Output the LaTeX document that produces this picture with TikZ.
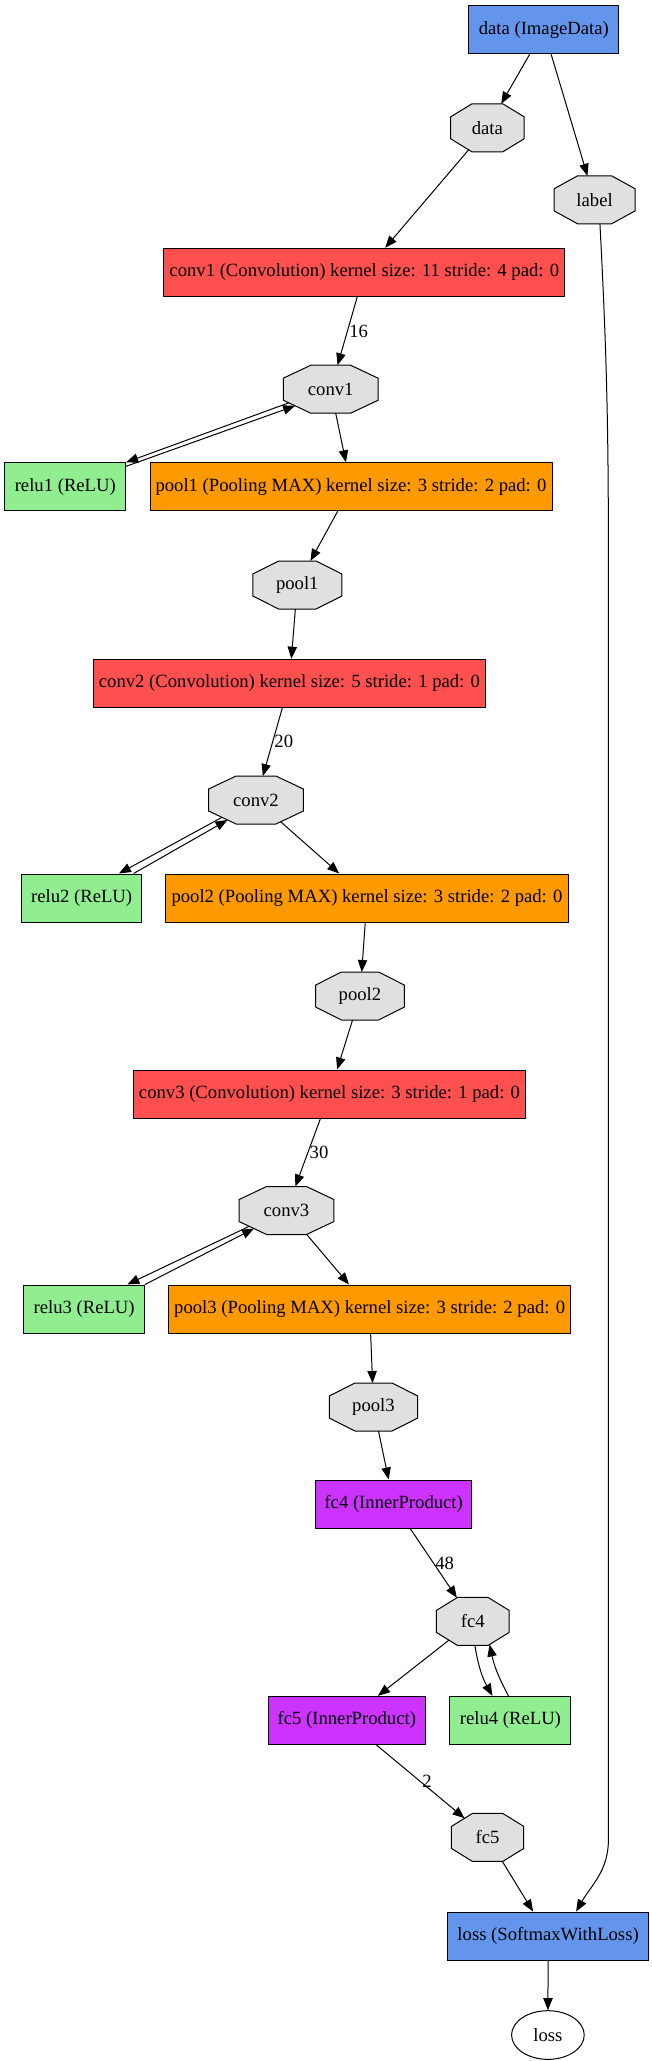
\documentclass[tikz,border=0pt]{standalone}
\usepackage{fontspec}
\setmainfont{Liberation Serif}
\usepackage{tikz}
\usetikzlibrary{shapes.geometric, arrows.meta, positioning}
\definecolor{dataclr}{HTML}{6495ED}
\definecolor{convclr}{HTML}{FF5050}
\definecolor{poolclr}{HTML}{FF9900}
\definecolor{fcclr}{HTML}{CC33FF}
\definecolor{reluclr}{HTML}{90EE90}
\definecolor{blobclr}{HTML}{E0E0E0}

% octagon shape for the blobs
\makeatletter
\newdimen\octxa \newdimen\octya \newdimen\octxb \newdimen\octyb \newdimen\octcx \newdimen\octcy
\pgfdeclareshape{blobshape}{
  \inheritsavedanchors[from=rectangle]
  \inheritanchor[from=rectangle]{center}
  \inheritanchor[from=rectangle]{mid}
  \inheritanchor[from=rectangle]{base}
  \inheritanchor[from=rectangle]{north}
  \inheritanchor[from=rectangle]{south}
  \inheritanchor[from=rectangle]{east}
  \inheritanchor[from=rectangle]{west}
  \backgroundpath{%
    \southwest \octxa=\pgf@x \octya=\pgf@y
    \northeast \octxb=\pgf@x \octyb=\pgf@y
    \octcx=\dimexpr(\octxb-\octxa)*29/100\relax
    \octcy=\dimexpr(\octyb-\octya)*27/100\relax
    \pgfpathmoveto{\pgfqpoint{\dimexpr\octxa+\octcx\relax}{\octyb}}%
    \pgfpathlineto{\pgfqpoint{\dimexpr\octxb-\octcx\relax}{\octyb}}%
    \pgfpathlineto{\pgfqpoint{\octxb}{\dimexpr\octyb-\octcy\relax}}%
    \pgfpathlineto{\pgfqpoint{\octxb}{\dimexpr\octya+\octcy\relax}}%
    \pgfpathlineto{\pgfqpoint{\dimexpr\octxb-\octcx\relax}{\octya}}%
    \pgfpathlineto{\pgfqpoint{\dimexpr\octxa+\octcx\relax}{\octya}}%
    \pgfpathlineto{\pgfqpoint{\octxa}{\dimexpr\octya+\octcy\relax}}%
    \pgfpathlineto{\pgfqpoint{\octxa}{\dimexpr\octyb-\octcy\relax}}%
    \pgfpathclose
  }
  \anchorborder{%
    \edef\octdx{\strip@pt\pgf@x}\edef\octdy{\strip@pt\pgf@y}%
    \southwest \octxa=\pgf@x \octya=\pgf@y
    \northeast \octxb=\pgf@x \octyb=\pgf@y
    \edef\octa{\strip@pt\dimexpr(\octxb-\octxa)/2\relax}%
    \edef\octb{\strip@pt\dimexpr(\octyb-\octya)/2\relax}%
    \edef\octmx{\strip@pt\dimexpr(\octxb+\octxa)/2\relax}%
    \edef\octmy{\strip@pt\dimexpr(\octyb+\octya)/2\relax}%
    \pgfmathsetmacro\octcxv{0.58*\octa}%
    \pgfmathsetmacro\octcyv{0.54*\octb}%
    \pgfmathsetmacro\octp{\octa+(\octb-\octcyv)*\octcxv/\octcyv}%
    \pgfmathsetmacro\octq{\octp*\octcyv/\octcxv}%
    \pgfmathsetmacro\octt{min(\octa/max(abs(\octdx),0.01),\octb/max(abs(\octdy),0.01),1/max(abs(\octdx)/\octp+abs(\octdy)/\octq,0.0001))}%
    \pgfmathsetmacro\octrx{\octmx+\octt*\octdx}%
    \pgfmathsetmacro\octry{\octmy+\octt*\octdy}%
    \pgf@x=\octrx pt\relax
    \pgf@y=\octry pt\relax
  }
}
\makeatother

\tikzstyle{arrow} = [line width=0.75pt,->,>={Triangle[length=9pt,width=7pt]}]
\tikzstyle{layer} = [rectangle, draw, line width=0.75pt, minimum height=36pt, inner sep=0pt]
\tikzstyle{blob} = [blobshape, draw, fill=blobclr, line width=0.75pt, minimum height=36pt, inner sep=0pt, outer sep=0pt]
\tikzstyle{num} = [right, inner sep=1pt]
\tikzset{every node/.style={align=center, font=\fontsize{14}{16}\selectfont}}

\begin{document}
\begin{tikzpicture}[x=0.75pt, y=-0.75pt]
    \useasboundingbox (0,0) rectangle (651,2061);

    \node (dataL) [layer, fill=dataclr, minimum width=112.5pt] at (543.8,29.7) {data (ImageData)};
    \node (dataB) [blob, minimum width=55pt] at (487.4,127.8) {data};
    \node (labelB) [blob, minimum width=60.75pt] at (594.6,199.8) {label};
    \node (conv1L) [layer, fill=convclr, minimum width=300.5pt] at (364.3,272.3) {conv1 (Convolution) kernel size: 11 stride: 4 pad: 0};
    \node (conv1B) [blob, minimum width=71pt] at (330.7,389.2) {conv1};
    \node (relu1L) [layer, fill=reluclr, minimum width=90.5pt] at (65.3,486.8) {relu1 (ReLU)};
    \node (pool1L) [layer, fill=poolclr, minimum width=301.5pt] at (351,486.8) {pool1 (Pooling MAX) kernel size: 3 stride: 2 pad: 0};
    \node (pool1B) [blob, minimum width=66.75pt] at (297.3,585) {pool1};
    \node (conv2L) [layer, fill=convclr, minimum width=293.9pt] at (289.4,683.2) {conv2 (Convolution) kernel size: 5 stride: 1 pad: 0};
    \node (conv2B) [blob, minimum width=71pt] at (256,800) {conv2};
    \node (relu2L) [layer, fill=reluclr, minimum width=90.5pt] at (81.6,898) {relu2 (ReLU)};
    \node (pool2L) [layer, fill=poolclr, minimum width=302pt] at (367,898) {pool2 (Pooling MAX) kernel size: 3 stride: 2 pad: 0};
    \node (pool2B) [blob, minimum width=66.4pt] at (360,996) {pool2};
    \node (conv3L) [layer, fill=convclr, minimum width=294pt] at (329.5,1094) {conv3 (Convolution) kernel size: 3 stride: 1 pad: 0};
    \node (conv3B) [blob, minimum width=71pt] at (286.5,1210.5) {conv3};
    \node (relu3L) [layer, fill=reluclr, minimum width=90.5pt] at (84.1,1309) {relu3 (ReLU)};
    \node (pool3L) [layer, fill=poolclr, minimum width=301.7pt] at (369.7,1309) {pool3 (Pooling MAX) kernel size: 3 stride: 2 pad: 0};
    \node (pool3B) [blob, minimum width=66.3pt] at (373.5,1407) {pool3};
    \node (fc4L) [layer, fill=fcclr, minimum width=117.4pt] at (393.7,1504) {fc4 (InnerProduct)};
    \node (fc4B) [blob, minimum width=54.5pt] at (472.8,1621.4) {fc4};
    \node (fc5L) [layer, fill=fcclr, minimum width=117.75pt] at (346.8,1720.3) {fc5 (InnerProduct)};
    \node (relu4L) [layer, fill=reluclr, minimum width=90.75pt] at (510.4,1720.3) {relu4 (ReLU)};
    \node (fc5B) [blob, minimum width=54.2pt] at (487.6,1837.4) {fc5};
    \node (lossL) [layer, fill=dataclr, minimum width=151pt] at (548.1,1936) {loss (SoftmaxWithLoss)};
    \node (lossB) [ellipse, draw, line width=0.75pt, minimum width=54.5pt, minimum height=36.5pt, inner sep=0pt] at (547.9,2035) {loss};

    \coordinate (railtop) at (608.4,560);
    \coordinate (railbot) at (608.4,1840);

    \draw [arrow] (dataL) -- (dataB);
    \draw [arrow] (dataL) -- (labelB);
    \draw [arrow] (dataB) -- (conv1L);
    \draw [arrow] (conv1L) -- node[num]{16} (conv1B);
    \draw [arrow] (conv1B.198) -- (relu1L.north east);
    \draw [arrow] ([yshift=-3pt]relu1L.north east) -- (conv1B.205);
    \draw [arrow] (conv1B) -- (pool1L);
    \draw [arrow] (pool1L) -- (pool1B);
    \draw [arrow] (pool1B) -- (conv2L);
    \draw [arrow] (conv2L) -- node[num]{20} (conv2B);
    \draw [arrow] (conv2B.207) -- ([xshift=28pt]relu2L.north);
    \draw [arrow] ([xshift=39pt]relu2L.north) -- (conv2B.215);
    \draw [arrow] (conv2B) -- (pool2L);
    \draw [arrow] (pool2L) -- (pool2B);
    \draw [arrow] (pool2B) -- (conv3L);
    \draw [arrow] (conv3L) -- node[num]{30} (conv3B);
    \draw [arrow] (conv3B.203) -- ([xshift=32.4pt]relu3L.north);
    \draw [arrow] (relu3L.north east) -- (conv3B.209);
    \draw [arrow] (conv3B) -- (pool3L);
    \draw [arrow] (pool3L) -- (pool3B);
    \draw [arrow] (pool3B) -- (fc4L);
    \draw [arrow] (fc4L) -- node[num]{48} (fc4B);
    \draw [arrow] (fc4B) -- (fc5L);
    \draw [arrow] (fc4B.-85) to[bend right=10] ([xshift=-13.5pt]relu4L.north);
    \draw [arrow] ([xshift=-1.5pt]relu4L.north) to[bend left=8] (fc4B.-54);
    \draw [arrow] (fc5L) -- node[num]{2} (fc5B);
    \draw [arrow] (fc5B) -- (lossL);
    \draw [arrow] ([xshift=4pt]labelB.south) to[out=-87,in=90] (railtop) -- (railbot) to[out=-90,in=60] ([xshift=21pt]lossL.north);
    \draw [arrow] (lossL) -- (lossB);
\end{tikzpicture}
\end{document}
